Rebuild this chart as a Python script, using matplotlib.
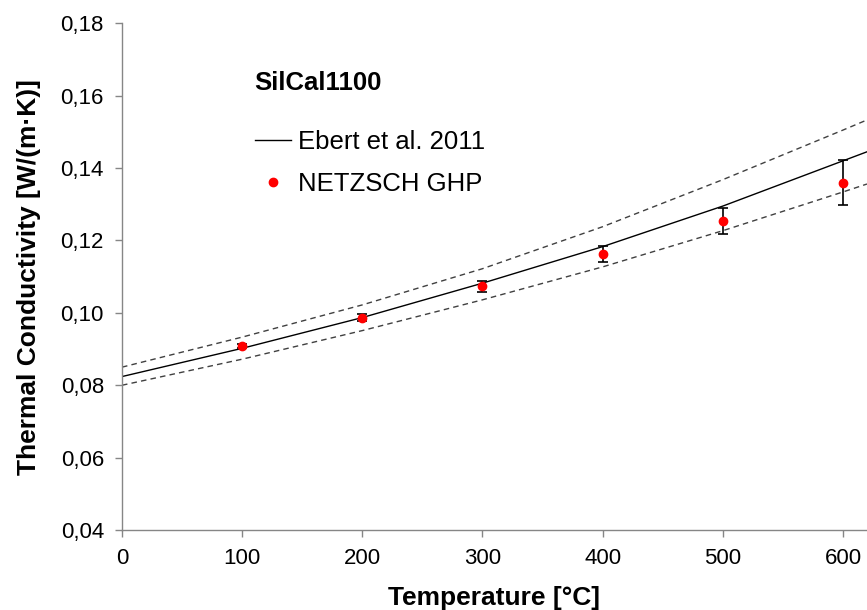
import matplotlib
matplotlib.use("Agg")
import matplotlib.pyplot as plt
from matplotlib.lines import Line2D
from matplotlib.ticker import FuncFormatter

plt.rcParams['font.family'] = ['Liberation Sans', 'DejaVu Sans']

# Ebert et al. 2011 model curve with upper / lower bounds
model_t = [0, 100, 200, 300, 400, 500, 600, 620]
model_k = [0.0824, 0.0902, 0.0987, 0.1082, 0.1183, 0.1295, 0.1420, 0.1445]
model_upper = [0.0850, 0.0933, 0.1022, 0.1122, 0.1238, 0.1368, 0.1505, 0.1533]
model_lower = [0.0800, 0.0872, 0.0951, 0.1036, 0.1127, 0.1227, 0.1334, 0.1356]

# NETZSCH GHP measurements
ghp_t = [100, 200, 300, 400, 500, 600]
ghp_k = [0.0909, 0.0987, 0.1074, 0.1163, 0.1254, 0.1360]
ghp_err = [0.0005, 0.0009, 0.0015, 0.0022, 0.0037, 0.0062]

x_ticks = [0, 100, 200, 300, 400, 500, 600]
y_ticks = [0.04, 0.06, 0.08, 0.10, 0.12, 0.14, 0.16, 0.18]

fig = plt.figure(figsize=(8.67, 6.10), dpi=100)
ax = fig.add_axes([0.1407, 0.1311, 0.8593, 0.8307])

ax.plot(model_t, model_k, color='black', lw=1.0)
ax.plot(model_t, model_upper, color='#404040', lw=1.0, ls=(0, (4, 3)))
ax.plot(model_t, model_lower, color='#404040', lw=1.0, ls=(0, (4, 3)))
ax.errorbar(ghp_t, ghp_k, yerr=ghp_err, fmt='o', color='red', ms=6,
            ecolor='black', elinewidth=1.2, capsize=3.5, capthick=1.2,
            zorder=3)

ax.set_xlim(0, 620)
ax.set_ylim(0.04, 0.18)
ax.set_xticks(x_ticks)
ax.set_yticks(y_ticks)
ax.yaxis.set_major_formatter(FuncFormatter(lambda v, p: ('%.2f' % v).replace('.', ',')))

for s in ['top', 'right']:
    ax.spines[s].set_visible(False)
for s in ['left', 'bottom']:
    ax.spines[s].set_color('#868686')
    ax.spines[s].set_linewidth(1.0)
ax.tick_params(direction='out', length=5, width=1, color='#868686',
               labelsize=16, pad=8)

ax.set_xlabel('Temperature [°C]', fontsize=19, fontweight='bold', labelpad=12)
ax.set_ylabel('Thermal Conductivity [W/(m·K)]', fontsize=19, fontweight='bold', labelpad=14)

ax.text(0.178, 0.882, 'SilCal1100', transform=ax.transAxes, fontsize=18.5,
        fontweight='bold', va='center', ha='left')

handles = [Line2D([], [], color='black', lw=1.0),
           Line2D([], [], color='red', marker='o', ls='none', ms=6)]
labels = ['Ebert et al. 2011', 'NETZSCH GHP']
ax.legend(handles, labels, loc='upper left', bbox_to_anchor=(0.178, 0.79),
          frameon=False, fontsize=18.5, handlelength=1.4, handletextpad=0.3,
          labelspacing=0.72, borderpad=0, borderaxespad=0)

fig.savefig('out.png', dpi=100)
